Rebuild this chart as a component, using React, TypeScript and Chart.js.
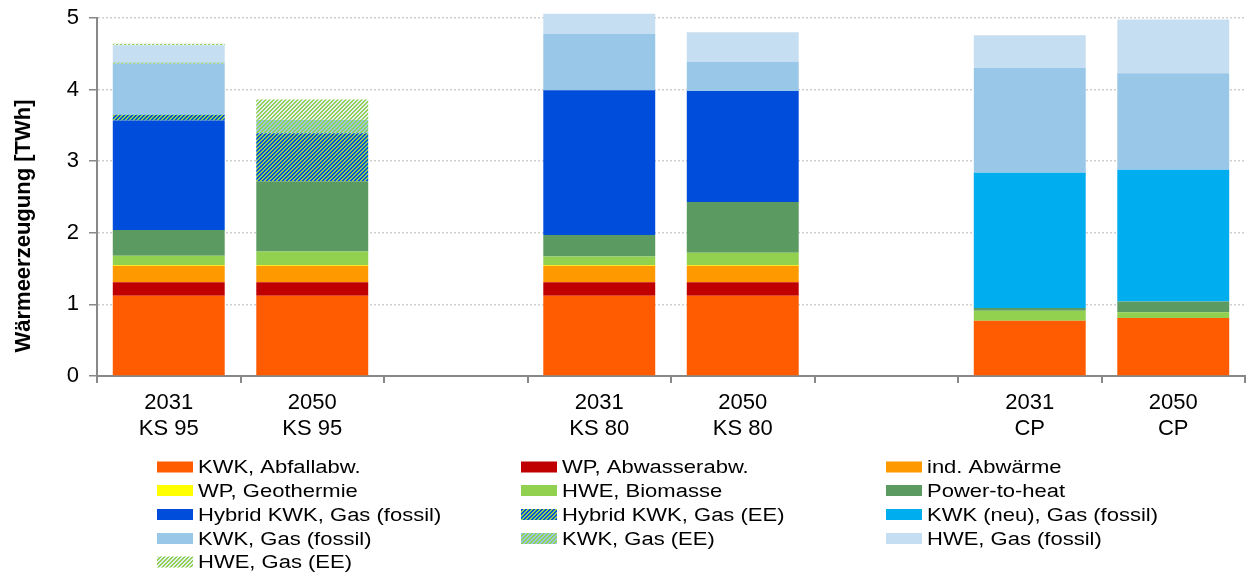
import React, { useEffect, useRef } from "react";
import { Chart, registerables } from "chart.js";

Chart.register(...registerables);

const categories: (string | string[])[] = [
  ["2031", "KS 95"], ["2050", "KS 95"], "", ["2031", "KS 80"], ["2050", "KS 80"], "", ["2031", "CP"], ["2050", "CP"],
];

const seriesNames = [
  "KWK, Abfallabw.", "WP, Abwasserabw.", "ind. Abwärme",
  "WP, Geothermie", "HWE, Biomasse", "Power-to-heat",
  "Hybrid KWK, Gas (fossil)", "Hybrid KWK, Gas (EE)", "KWK (neu), Gas (fossil)",
  "KWK, Gas (fossil)", "KWK, Gas (EE)", "HWE, Gas (fossil)",
  "HWE, Gas (EE)",
];

const yTitle = "Wärmeerzeugung [TWh]";

const kwkAbfall = [1.12, 1.12, null, 1.12, 1.12, null, 0.77, 0.81];
const wpAbwasser = [0.19, 0.19, null, 0.19, 0.19, null, 0, 0];
const indAbwaerme = [0.23, 0.23, null, 0.23, 0.23, null, 0, 0];
const wpGeothermie = [0.01, 0.01, null, 0.01, 0.01, null, 0, 0];
const hweBiomasse = [0.13, 0.19, null, 0.12, 0.17, null, 0.14, 0.08];
const powerToHeat = [0.36, 0.98, null, 0.30, 0.71, null, 0.04, 0.15];
const hybridFossil = [1.53, 0, null, 2.02, 1.55, null, 0, 0];
const hybridEE = [0.08, 0.67, null, 0, 0, null, 0, 0];
const kwkNeuFossil = [0, 0, null, 0, 0, null, 1.89, 1.84];
const kwkGasFossil = [0.71, 0, null, 0.79, 0.41, null, 1.46, 1.35];
const kwkGasEE = [0.02, 0.19, null, 0, 0, null, 0, 0];
const hweGasFossil = [0.24, 0, null, 0.28, 0.41, null, 0.46, 0.75];
const hweGasEE = [0.02, 0.28, null, 0, 0, null, 0, 0];

const yTicks = [0, 1, 2, 3, 4, 5];

const FONT = "'Liberation Sans', Arial, sans-serif";

function makeHatch(bg: string, fg: string): CanvasPattern | string {
  const c = document.createElement("canvas");
  c.width = 4;
  c.height = 4;
  const g = c.getContext("2d");
  if (!g) return bg;
  g.fillStyle = bg;
  g.fillRect(0, 0, 4, 4);
  g.fillStyle = fg;
  for (let x = 0; x < 4; x++) {
    for (let y = 0; y < 4; y++) {
      const m = (x + y) % 4;
      if (m === 0 || m === 1) g.fillRect(x, y, 1, 1);
    }
  }
  const p = g.createPattern(c, "repeat");
  return p || bg;
}

export default function App() {
  const ref = useRef<HTMLCanvasElement>(null);

  useEffect(() => {
    if (!ref.current) return;
    const green = "#92D050";
    const colors: any[] = [
      "#FF5B00", "#C00000", "#FF9900",
      "#FFFF00", "#92D050", "#5B9B62",
      "#004DDB", makeHatch("#004DDB", green), "#00AEEF",
      "#98C7E7", makeHatch("#98C7E7", green), "#C6DEF1",
      makeHatch("#E4EFF8", green),
    ];
    const values = [
      kwkAbfall, wpAbwasser, indAbwaerme, wpGeothermie, hweBiomasse, powerToHeat,
      hybridFossil, hybridEE, kwkNeuFossil, kwkGasFossil, kwkGasEE, hweGasFossil, hweGasEE,
    ];
    const datasets = seriesNames.map((name, i) => ({
      label: name,
      data: values[i],
      backgroundColor: colors[i],
      borderWidth: 0,
      categoryPercentage: 1,
      barPercentage: 0.78,
      clip: false as any,
    }));

    const legendPlugin = {
      id: "gridLegend",
      afterDraw(chart: any) {
        const ctx = chart.ctx;
        const colX = [157, 521, 886];
        const rowY = [467, 490.5, 514.5, 538.5, 562];
        ctx.save();
        ctx.font = `22px ${FONT}`;
        ctx.textBaseline = "middle";
        ctx.textAlign = "left";
        chart.data.datasets.forEach((ds: any, i: number) => {
          const col = i % 3;
          const row = Math.floor(i / 3);
          const x = colX[col];
          const y = rowY[row];
          ctx.fillStyle = ds.backgroundColor;
          ctx.fillRect(x, y - 5.5, 36, 11);
          ctx.save();
          ctx.translate(x + 41, y + 1);
          ctx.scale(1, 0.84);
          ctx.fillStyle = "#000";
          ctx.fillText(ds.label, 0, 0);
          ctx.restore();
        });
        ctx.save();
        ctx.translate(24, 226);
        ctx.rotate(-Math.PI / 2);
        ctx.font = `bold 22px ${FONT}`;
        ctx.textAlign = "center";
        ctx.textBaseline = "middle";
        ctx.fillStyle = "#000";
        ctx.fillText(yTitle, 0, 0);
        ctx.restore();
        ctx.restore();
      },
    };

    const chart = new Chart(ref.current, {
      type: "bar",
      data: { labels: categories as any, datasets },
      plugins: [legendPlugin],
      options: {
        animation: false,
        responsive: false,
        layout: { padding: { left: 8, top: 18, right: 3, bottom: 128 } },
        plugins: {
          legend: { display: false },
          tooltip: { enabled: false },
        },
        scales: {
          x: {
            stacked: true,
            offset: true,
            afterFit: (s: any) => { s.height = 70; s.paddingLeft = 0; s.paddingRight = 0; },
            grid: {
              offset: true,
              drawOnChartArea: false,
              drawTicks: true,
              tickLength: 7,
              color: "#888",
              lineWidth: 2,
            },
            border: { color: "#888", width: 2 },
            ticks: {
              color: "#000",
              padding: 7,
              maxRotation: 0,
              autoSkip: false,
              font: { size: 22, family: FONT, lineHeight: 1.18 },
            },
          },
          y: {
            stacked: true,
            min: 0,
            max: 5,
            afterFit: (s: any) => { s.width = 89; s.paddingTop = 0; s.paddingBottom = 0; },
            afterBuildTicks: (s: any) => { s.ticks = yTicks.map((v) => ({ value: v })); },
            border: { color: "#888", width: 2, dash: [2, 2] },
            grid: {
              color: "#cfcfcf",
              lineWidth: 1.5,
              tickColor: "#888",
              tickWidth: 1.5,
              tickLength: 8,
              tickBorderDash: [1, 0],
            } as any,
            ticks: {
              color: "#000",
              padding: 10,
              font: { size: 22, family: FONT },
            },
          },
        },
      },
    });
    return () => chart.destroy();
  }, []);

  return (
    <div style={{ position: "absolute", left: 0, top: 0, width: 1248, height: 574, background: "#fff" }}>
      <canvas ref={ref} width={1248} height={574} style={{ display: "block" }} />
    </div>
  );
}
